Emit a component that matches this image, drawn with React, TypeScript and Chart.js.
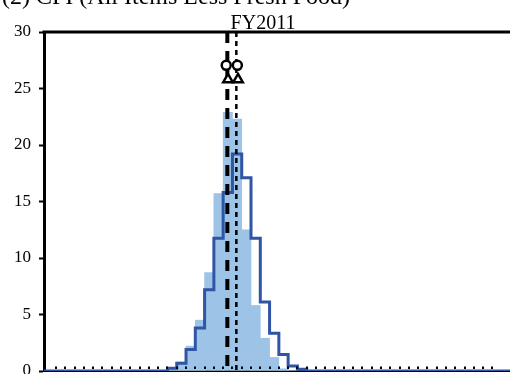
import React, { useEffect, useRef } from "react";
import { Chart, registerables } from "chart.js";

Chart.register(...registerables);

// Histogram bins (left edges, % y/y), width 0.1
const binStarts = [-0.2, -0.1, 0.0, 0.1, 0.2, 0.3, 0.4, 0.5, 0.6, 0.7, 0.8, 0.9, 1.0, 1.1, 1.2];
const binWidth = 0.1;
// Shaded distribution (share, %)
const filledShares = [0.15, 0.8, 2.2, 4.5, 8.7, 15.7, 22.9, 22.3, 12.5, 5.8, 2.9, 1.2, 0.2, 0.05, 0];
// Outlined distribution (share, %)
const outlineShares = [0.25, 0.68, 1.9, 3.8, 7.2, 11.75, 15.8, 19.2, 17.1, 11.75, 6.1, 3.35, 1.45, 0.45, 0.15];
// Vertical reference lines: [thick dashed, thin dashed]
const refLines = [0.445, 0.542];
// Markers
const circleX = [0.433, 0.553];
const circleY = 27.05;
const triangleX = [0.452, 0.56];
const triangleY = 25.8;
// Axes
const xMin = -1.53;
const xMax = 3.49;
const yMin = 0;
const yMax = 30;
const yStep = 5;
const xStep = 0.1;
const titleText = "(2) CPI (All Items Less Fresh Food)";
const panelText = "FY2011";

const FONT = '"Liberation Serif", "Times New Roman", serif';
const LIGHT_BLUE = "#9DC3E6";
const DARK_BLUE = "#2F55A4";

const decorPlugin = {
  id: "decor",
  afterDatasetsDraw(chart: any) {
    const { ctx, chartArea, scales } = chart;
    const xs = scales.x;
    ctx.save();
    ctx.fillStyle = "#000";
    xs.ticks.forEach((t: any) => {
      if (t.value <= xs.min + 1e-6 || t.value >= xs.max - 1e-6) return;
      const px = xs.getPixelForValue(t.value);
      ctx.fillRect(Math.round(px) - 1, chartArea.bottom - 4.5, 2, 2.5);
    });
    ctx.strokeStyle = "#000";
    ctx.lineWidth = 3;
    ctx.beginPath();
    ctx.moveTo(chartArea.left - 1.5, chartArea.top);
    ctx.lineTo(chartArea.right, chartArea.top);
    ctx.stroke();
    ctx.restore();
  },
  afterDraw(chart: any) {
    const { ctx } = chart;
    ctx.save();
    ctx.fillStyle = "#000";
    ctx.textBaseline = "alphabetic";
    ctx.textAlign = "left";
    ctx.font = `24px ${FONT}`;
    ctx.fillText(titleText, 2, 4);
    ctx.textAlign = "center";
    ctx.font = `20px ${FONT}`;
    ctx.fillText(panelText, 263, 29);
    ctx.restore();
  },
};

export default function App() {
  const canvasRef = useRef<HTMLCanvasElement | null>(null);

  useEffect(() => {
    const canvas = canvasRef.current;
    if (!canvas) return;

    const barData = binStarts.map((b, i) => ({ x: b + binWidth / 2, y: filledShares[i] }));
    const lastEdge = binStarts[binStarts.length - 1] + binWidth;
    const outlineData = [
      { x: xMin, y: 0 },
      ...binStarts.map((b, i) => ({ x: b, y: outlineShares[i] })),
      { x: lastEdge, y: 0 },
      { x: xMax, y: 0 },
    ];

    const chart = new Chart(canvas, {
      type: "bar",
      data: {
        datasets: [
          {
            type: "line",
            data: circleX.map((x) => ({ x, y: circleY })),
            showLine: false,
            pointStyle: "circle",
            pointRadius: 4.5,
            pointBorderWidth: 2.5,
            pointBackgroundColor: "#fff",
            pointBorderColor: "#000",
          } as any,
          {
            type: "line",
            data: triangleX.map((x) => ({ x, y: triangleY })),
            showLine: false,
            pointStyle: "triangle",
            pointRadius: 5.5,
            pointBorderWidth: 2.5,
            pointBackgroundColor: "#fff",
            pointBorderColor: "#000",
          } as any,
          {
            type: "line",
            data: [
              { x: refLines[0], y: yMax },
              { x: refLines[0], y: yMin },
            ],
            borderColor: "#000",
            borderWidth: 4,
            borderDash: [11, 8],
            pointRadius: 0,
          } as any,
          {
            type: "line",
            data: [
              { x: refLines[1], y: yMax },
              { x: refLines[1], y: yMin },
            ],
            borderColor: "#000",
            borderWidth: 2.5,
            borderDash: [5, 4],
            pointRadius: 0,
          } as any,
          {
            type: "line",
            data: outlineData,
            stepped: "before",
            borderColor: DARK_BLUE,
            borderWidth: 3,
            pointRadius: 0,
            fill: false,
          } as any,
          {
            type: "bar",
            data: barData,
            backgroundColor: LIGHT_BLUE,
            borderWidth: 0,
            barPercentage: 1,
            categoryPercentage: 1,
            barThickness: "flex",
          } as any,
        ],
      },
      options: {
        animation: false,
        responsive: false,
        maintainAspectRatio: false,
        devicePixelRatio: 1,
        layout: { autoPadding: false, padding: { top: 32, right: 0, bottom: 0, left: 0 } },
        plugins: {
          legend: { display: false },
          tooltip: { enabled: false },
          title: { display: false },
        },
        scales: {
          x: {
            type: "linear",
            min: xMin,
            max: xMax,
            offset: false,
            afterFit: (s: any) => {
              s.height = 3;
              s.paddingLeft = 0;
              s.paddingRight = 0;
            },
            ticks: { display: false, stepSize: xStep, autoSkip: false },
            grid: { display: false },
            border: { display: true, color: "#000", width: 2 },
          },
          y: {
            type: "linear",
            min: yMin,
            max: yMax,
            afterFit: (s: any) => {
              s.width = 44;
              s.paddingTop = 0;
              s.paddingBottom = 0;
            },
            ticks: {
              stepSize: yStep,
              color: "#000",
              padding: 8,
              font: { family: FONT, size: 17 },
            },
            grid: {
              drawOnChartArea: false,
              drawTicks: true,
              tickLength: 5,
              tickColor: "#000",
              tickWidth: 2,
            },
            border: { display: true, color: "#000", width: 3 },
          },
        },
      } as any,
      plugins: [decorPlugin],
    });

    return () => chart.destroy();
  }, []);

  return (
    <div
      style={{
        position: "absolute",
        left: 0,
        top: 0,
        width: 510,
        height: 374,
        overflow: "hidden",
        background: "#fff",
      }}
    >
      <canvas ref={canvasRef} width={510} height={374} style={{ width: 510, height: 374, display: "block" }} />
    </div>
  );
}
